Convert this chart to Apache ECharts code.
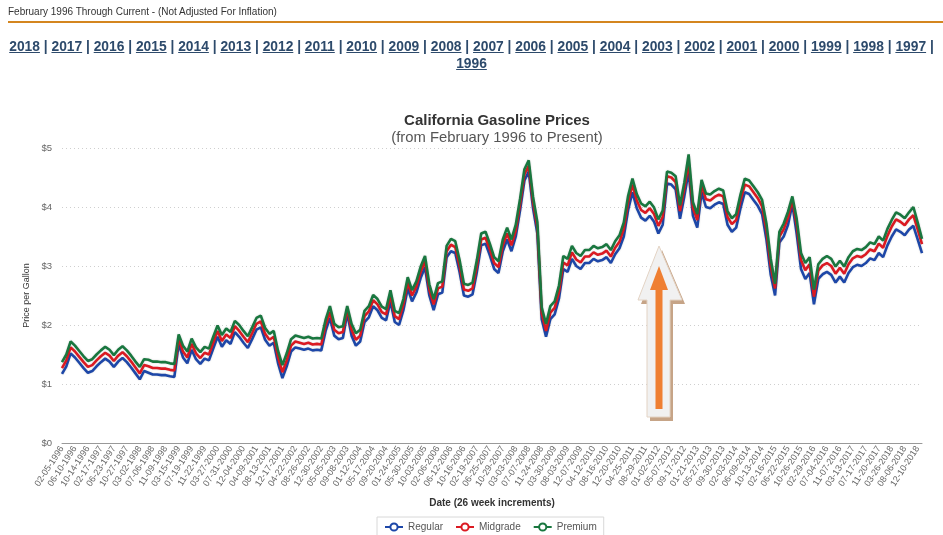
<!DOCTYPE html>
<html>
<head>
<meta charset="utf-8">
<script src="https://cdn.jsdelivr.net/npm/echarts@6/dist/echarts.min.js"></script>
<style>
  html, body { margin:0; padding:0; background:#fff; width:943px; height:535px; overflow:hidden; }
  #chart { position:absolute; left:0; top:0; width:943px; height:535px; }
  #hdr { position:absolute; left:8px; top:6px; font:10px 'Liberation Sans', Arial, sans-serif; color:#333; z-index:2; }
  #rule { position:absolute; left:8px; right:0; top:21px; height:2px; background:#d4861f; z-index:2; }
  #years { position:absolute; left:0; width:943px; top:38px; text-align:center; font:bold 13.8px/17px 'Liberation Sans', Arial, sans-serif; color:#2d4a6b; z-index:2; }
  #years a { color:#2d4a6b; text-decoration:underline; }
</style>
</head>
<body>
<div id="chart"></div>
<div id="hdr">February 1996 Through Current - (Not Adjusted For Inflation)</div>
<div id="rule"></div>
<div id="years"></div>
<script>
// ---- data ----
const yearLinks = ['2018','2017','2016','2015','2014','2013','2012','2011','2010','2009','2008','2007','2006','2005','2004','2003','2002','2001','2000','1999','1998','1997','1996'];

const tickLabels = ['02-05-1996','06-10-1996','10-14-1996','02-17-1997','06-23-1997','10-27-1997','03-02-1998','07-06-1998','11-09-1998','03-15-1999','07-19-1999','11-22-1999','03-27-2000','07-31-2000','12-04-2000','04-09-2001','08-13-2001','12-17-2001','04-22-2002','08-26-2002','12-30-2002','05-05-2003','09-08-2003','01-12-2004','05-17-2004','09-20-2004','01-24-2005','05-30-2005','10-03-2005','02-06-2006','06-12-2006','10-16-2006','02-19-2007','06-25-2007','10-29-2007','03-03-2008','07-07-2008','11-24-2008','03-30-2009','08-03-2009','12-07-2009','04-12-2010','08-16-2010','12-20-2010','04-25-2011','08-29-2011','01-02-2012','05-07-2012','09-17-2012','01-21-2013','05-27-2013','09-30-2013','02-03-2014','06-09-2014','10-13-2014','02-16-2015','06-22-2015','10-26-2015','02-29-2016','07-04-2016','11-07-2016','03-13-2017','07-17-2017','11-20-2017','03-26-2018','08-06-2018','12-10-2018'];

const regular = [
1.17,1.30,1.52,1.45,1.36,1.27,1.19,1.22,1.30,1.37,
1.43,1.38,1.29,1.38,1.44,1.37,1.28,1.18,1.08,1.22,
1.19,1.16,1.16,1.15,1.15,1.13,1.12,1.68,1.45,1.35,
1.58,1.42,1.34,1.43,1.40,1.60,1.80,1.63,1.74,1.68,
1.88,1.80,1.70,1.61,1.76,1.92,1.96,1.75,1.65,1.70,
1.35,1.10,1.30,1.55,1.62,1.60,1.58,1.60,1.57,1.58,
1.57,1.90,2.12,1.82,1.76,1.78,2.20,1.82,1.65,1.72,
2.05,2.13,2.32,2.25,2.12,2.08,2.40,2.05,2.00,2.25,
2.62,2.40,2.55,2.80,2.98,2.50,2.25,2.52,2.55,3.15,
3.25,3.22,2.90,2.50,2.48,2.52,2.90,3.35,3.38,3.18,
2.95,2.88,3.25,3.45,3.25,3.50,3.95,4.45,4.60,3.98,
3.55,2.10,1.80,2.10,2.18,2.45,2.95,2.90,3.12,3.00,
2.95,3.05,3.05,3.12,3.08,3.10,3.15,3.05,3.20,3.30,
3.50,3.95,4.25,3.98,3.82,3.77,3.85,3.75,3.55,3.70,
4.40,4.38,4.30,3.80,4.18,4.60,3.85,3.65,4.25,4.00,
3.98,4.04,4.08,4.05,3.70,3.58,3.65,3.98,4.25,4.22,
4.12,4.02,3.88,3.45,2.85,2.50,3.40,3.50,3.70,4.05,
3.55,2.95,2.78,2.88,2.35,2.78,2.86,2.90,2.85,2.72,
2.82,2.72,2.88,2.98,3.02,3.00,3.05,3.13,3.10,3.22,
3.15,3.35,3.50,3.62,3.58,3.52,3.62,3.68,3.45,3.22
];

const midgrade = [
1.27,1.40,1.62,1.55,1.46,1.37,1.29,1.32,1.40,1.47,
1.53,1.48,1.39,1.48,1.54,1.47,1.38,1.28,1.18,1.32,
1.30,1.27,1.27,1.26,1.26,1.24,1.23,1.77,1.55,1.45,
1.68,1.52,1.44,1.53,1.50,1.70,1.90,1.73,1.84,1.78,
1.98,1.90,1.80,1.71,1.86,2.02,2.06,1.85,1.75,1.80,
1.45,1.20,1.40,1.65,1.72,1.70,1.68,1.70,1.67,1.68,
1.67,2.00,2.22,1.92,1.86,1.88,2.27,1.92,1.75,1.82,
2.15,2.23,2.42,2.35,2.22,2.18,2.50,2.15,2.10,2.35,
2.72,2.50,2.65,2.90,3.08,2.60,2.35,2.62,2.65,3.25,
3.36,3.32,3.00,2.60,2.58,2.62,3.00,3.45,3.48,3.28,
3.05,2.98,3.35,3.55,3.35,3.60,4.05,4.55,4.70,4.08,
3.65,2.20,1.90,2.21,2.29,2.56,3.06,3.01,3.23,3.11,
3.06,3.16,3.16,3.23,3.19,3.21,3.26,3.16,3.31,3.41,
3.63,4.08,4.38,4.11,3.95,3.90,3.98,3.88,3.68,3.83,
4.52,4.50,4.42,3.93,4.31,4.75,3.98,3.78,4.37,4.13,
4.11,4.17,4.21,4.18,3.83,3.71,3.78,4.11,4.38,4.35,
4.25,4.15,4.01,3.60,3.00,2.62,3.50,3.62,3.82,4.12,
3.70,3.10,2.93,3.03,2.48,2.92,3.01,3.05,3.00,2.87,
2.97,2.87,3.03,3.13,3.17,3.15,3.20,3.28,3.25,3.38,
3.31,3.51,3.67,3.79,3.75,3.69,3.79,3.86,3.62,3.37
];

const premium = [
1.37,1.50,1.72,1.65,1.56,1.47,1.39,1.42,1.50,1.57,
1.63,1.58,1.49,1.58,1.64,1.57,1.48,1.38,1.29,1.42,
1.41,1.38,1.38,1.37,1.37,1.35,1.34,1.84,1.65,1.55,
1.77,1.62,1.54,1.63,1.60,1.80,1.99,1.83,1.94,1.88,
2.07,2.00,1.90,1.81,1.96,2.12,2.16,1.95,1.85,1.90,
1.56,1.32,1.52,1.76,1.82,1.80,1.78,1.80,1.77,1.78,
1.77,2.09,2.32,2.02,1.96,1.98,2.32,2.02,1.86,1.92,
2.24,2.32,2.51,2.44,2.31,2.27,2.59,2.24,2.20,2.44,
2.81,2.59,2.74,2.99,3.17,2.69,2.44,2.71,2.74,3.34,
3.46,3.42,3.10,2.70,2.68,2.72,3.10,3.55,3.58,3.38,
3.15,3.08,3.45,3.65,3.45,3.70,4.14,4.64,4.79,4.17,
3.74,2.30,2.02,2.32,2.40,2.67,3.17,3.12,3.34,3.22,
3.17,3.27,3.27,3.34,3.30,3.32,3.37,3.27,3.42,3.52,
3.74,4.19,4.48,4.22,4.06,4.01,4.09,3.99,3.79,3.94,
4.60,4.58,4.52,4.03,4.41,4.89,4.08,3.88,4.46,4.23,
4.21,4.27,4.31,4.28,3.93,3.81,3.88,4.21,4.48,4.45,
4.35,4.25,4.12,3.72,3.12,2.70,3.58,3.72,3.92,4.18,
3.80,3.22,3.05,3.15,2.60,3.03,3.12,3.17,3.12,2.99,
3.09,2.99,3.15,3.25,3.29,3.27,3.32,3.40,3.37,3.50,
3.43,3.63,3.78,3.91,3.87,3.81,3.91,4.00,3.74,3.46
];

const yTicks = [0, 1, 2, 3, 4, 5];

// ---- header links ----
document.getElementById('years').innerHTML =
  yearLinks.map((y, i) => '<a>' + y + '</a>' + (i < yearLinks.length - 1 ? ' | ' : '')).join('');

// ---- categories (one point per 6 weeks; a label every 3rd point) ----
const categories = regular.map((_, i) => {
  const t = tickLabels[Math.min(Math.floor(i / 3), tickLabels.length - 1)];
  return i % 3 === 0 && Math.floor(i / 3) < tickLabels.length ? t : t + ' +' + (i % 3);
});

const chart = echarts.init(document.getElementById('chart'), null, { renderer: 'canvas' });
const FONT = "'Liberation Sans', Arial, sans-serif";

function lineSeries(name, data, color) {
  return {
    name, type: 'line', data,
    symbol: 'emptyCircle', symbolSize: 7, showSymbol: false,
    lineStyle: { width: 2.6, color, shadowColor: 'rgba(0,0,0,0.18)', shadowBlur: 2 },
    itemStyle: { color, borderWidth: 1.5 },
    emphasis: { disabled: true },
    z: 3
  };
}

chart.setOption({
  animation: false,
  backgroundColor: 'transparent',
  textStyle: { fontFamily: FONT },
  title: {
    text: 'California Gasoline Prices',
    subtext: '(from February 1996 to Present)',
    left: 492, top: 108, textAlign: 'center', itemGap: 2,
    textStyle: { fontFamily: FONT, fontSize: 15, fontWeight: 'bold', color: '#333' },
    subtextStyle: { fontFamily: FONT, fontSize: 14.8, color: '#555' }
  },
  legend: {
    left: 377, top: 517,
    padding: [5, 7, 5, 7],
    borderColor: '#d8d8d8', borderWidth: 1,
    itemGap: 12, itemWidth: 18, itemHeight: 9,
    textStyle: { fontFamily: FONT, fontSize: 10, color: '#555' },
    data: ['Regular', 'Midgrade', 'Premium']
  },
  grid: { left: 62, right: 21, top: 148, bottom: 92, containLabel: false },
  xAxis: {
    type: 'category',
    boundaryGap: false,
    data: categories,
    name: 'Date (26 week increments)',
    nameLocation: 'middle', nameGap: 55,
    nameTextStyle: { fontFamily: FONT, fontSize: 10, fontWeight: 'bold', color: '#333' },
    axisLine: { lineStyle: { color: '#999', width: 1 } },
    axisTick: { show: false },
    axisLabel: { interval: 2, rotate: 57, fontSize: 9, color: '#666', margin: 4, fontFamily: FONT },
    splitLine: { show: false }
  },
  yAxis: {
    type: 'value', min: yTicks[0], max: yTicks[yTicks.length - 1], interval: 1,
    name: 'Price per Gallon',
    nameLocation: 'middle', nameRotate: 90, nameGap: 25,
    nameTextStyle: { fontFamily: FONT, fontSize: 9, color: '#333' },
    axisLine: { show: false },
    axisTick: { show: false },
    axisLabel: { formatter: v => '$' + v, fontSize: 9.5, color: '#666', margin: 10, fontFamily: FONT },
    splitLine: { show: true, lineStyle: { type: [1, 3], color: '#cfcfcf', width: 1 } }
  },
  graphic: [
    // arrow shadow
    { type: 'polygon', z: 100, shape: { points: [[662,250],[685,304],[673,304],[673,421],[650,421],[650,304],[641,304]] },
      style: { fill: '#c6a487' } },
    // arrow outer body
    { type: 'polygon', z: 101, shape: { points: [[659,246],[682,300],[670,300],[670,417],[647,417],[647,300],[638,300]] },
      style: { fill: '#f1f1f1', stroke: '#e3d3c4', lineWidth: 1 } },
    // arrow inner orange
    { type: 'polygon', z: 102, shape: { points: [[659,266],[668,290],[662.5,290],[662.5,409],[655.5,409],[655.5,290],[650,290]] },
      style: { fill: '#ef7f32' } }
  ],
  series: [
    lineSeries('Regular', regular, '#1d47a8'),
    lineSeries('Midgrade', midgrade, '#db1a22'),
    lineSeries('Premium', premium, '#19773f')
  ]
});
</script>
</body>
</html>
